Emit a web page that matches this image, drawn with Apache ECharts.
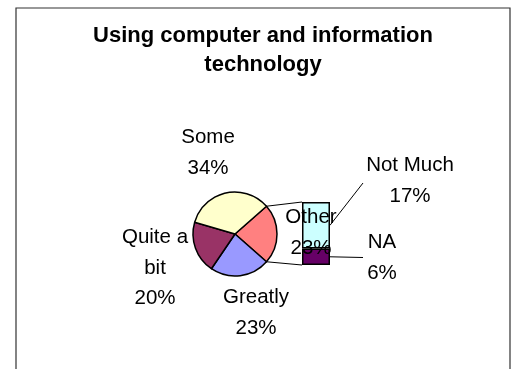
<!DOCTYPE html>
<html><head><meta charset="utf-8">
<script src="https://cdn.jsdelivr.net/npm/echarts@6/dist/echarts.min.js"></script>
<style>html,body{margin:0;padding:0;background:#fff}#c{width:517px;height:369px}</style>
</head><body><div id="c"></div>
<script>
// ---- data ----
const titleText = 'Using computer and information\ntechnology';
const pieNames = ['Other', 'Greatly', 'Quite a bit', 'Some'];
const pieLabels = ['Other', 'Greatly', 'Quite a\nbit', 'Some'];
const pieValues = [23, 23, 20, 34];
const barCategory = ['Other'];
const barNames = ['NA', 'Not Much'];
const barValues = [6, 17];

// ---- layout / style ----
const FONT = '"Liberation Sans", Arial, sans-serif';
const PIE = { cx: 235, cy: 234, r: 42 };
const BAR = { left: 302, top: 202, width: 28, height: 63 };
const pieColors = { 'Other': '#FF8080', 'Greatly': '#9999FF', 'Quite a bit': '#993366', 'Some': '#FFFFCC' };
const barColors = { 'NA': '#660066', 'Not Much': '#CCFFFF' };
const labelPos = {
  'Some': [208, 153], 'Quite a bit': [155, 268], 'Greatly': [256, 313], 'Other': [311, 233],
  'Not Much': [410, 181], 'NA': [382, 258]
};
const leaderEnd = { 'Not Much': [363, 183], 'NA': [363, 257.5] };

const otherIdx = pieNames.indexOf('Other');
const otherValue = pieValues[otherIdx];
const pieTotal = pieValues.reduce((a, b) => a + b, 0);
const startAngle = otherValue / pieTotal * 360 / 2;
const barTotal = barValues.reduce((a, b) => a + b, 0);

const chart = echarts.init(document.getElementById('c'), null, { renderer: 'canvas' });

const labelStyle = { color: '#000', fontFamily: FONT, fontSize: 20.5, lineHeight: 30.5 };

const option = {
  backgroundColor: '#fff',
  animation: false,
  grid: { left: BAR.left, top: BAR.top, width: BAR.width, height: BAR.height },
  xAxis: { type: 'category', data: barCategory, show: false },
  yAxis: { type: 'value', min: 0, max: barTotal, show: false },
  series: [
    {
      type: 'pie',
      center: [PIE.cx, PIE.cy],
      radius: PIE.r,
      startAngle: startAngle,
      clockwise: true,
      data: pieNames.map((n, i) => ({ name: n, value: pieValues[i], itemStyle: { color: pieColors[n] } })),
      itemStyle: { borderColor: '#000', borderWidth: 1.5 },
      label: Object.assign({
        show: true, position: 'outside',
        formatter: p => pieLabels[p.dataIndex] + '\n' + p.value + '%'
      }, labelStyle),
      labelLine: { show: false },
      labelLayout: p => {
        const pos = labelPos[pieNames[p.dataIndex]];
        return { x: pos[0], y: pos[1], align: 'center', verticalAlign: 'middle' };
      },
      z: 3
    }
  ].concat(barNames.map((n, i) => ({
    type: 'bar',
    name: n,
    stack: 'other',
    barWidth: '100%',
    data: [barValues[i]],
    itemStyle: { color: barColors[n], borderColor: '#000', borderWidth: 1.5 },
    label: Object.assign({
      show: true, position: 'right',
      formatter: () => n + '\n' + barValues[i] + '%'
    }, labelStyle),
    labelLayout: { x: labelPos[n][0], y: labelPos[n][1], align: 'center', verticalAlign: 'middle' },
    z: 2
  })))
};
chart.setOption(option);

// decorations: frame, title, connector and leader lines
const rad = startAngle * Math.PI / 180;
const pUp = [PIE.cx + PIE.r * Math.cos(rad), PIE.cy - PIE.r * Math.sin(rad)];
const pDn = [PIE.cx + PIE.r * Math.cos(rad), PIE.cy + PIE.r * Math.sin(rad)];
const yTop = chart.convertToPixel({ yAxisIndex: 0 }, barTotal);
const yBot = chart.convertToPixel({ yAxisIndex: 0 }, 0);
const yNA = chart.convertToPixel({ yAxisIndex: 0 }, barValues[0]);
const xL = BAR.left, xR = BAR.left + BAR.width;
const midNotMuch = (yTop + yNA) / 2, midNA = (yNA + yBot) / 2;

const lineStyle = { stroke: '#000', lineWidth: 1 };
chart.setOption({
  graphic: [
    { type: 'rect', shape: { x: 16, y: 8, width: 494, height: 400 }, style: { fill: null, stroke: '#333', lineWidth: 1.2 }, z: 0, silent: true },
    { type: 'text', x: 263, y: 50.5, style: { text: titleText, align: 'center', verticalAlign: 'middle', fontFamily: FONT, fontWeight: 'bold', fontSize: 22, lineHeight: 29, fill: '#000' }, z: 10 },
    { type: 'line', shape: { x1: pUp[0], y1: pUp[1], x2: xL, y2: yTop }, style: lineStyle, z: 10 },
    { type: 'line', shape: { x1: pDn[0], y1: pDn[1], x2: xL, y2: yBot }, style: lineStyle, z: 10 },
    { type: 'line', shape: { x1: xR, y1: midNotMuch, x2: leaderEnd['Not Much'][0], y2: leaderEnd['Not Much'][1] }, style: lineStyle, z: 10 },
    { type: 'line', shape: { x1: xR, y1: midNA, x2: leaderEnd['NA'][0], y2: leaderEnd['NA'][1] }, style: lineStyle, z: 10 }
  ]
});
</script>
</body></html>
